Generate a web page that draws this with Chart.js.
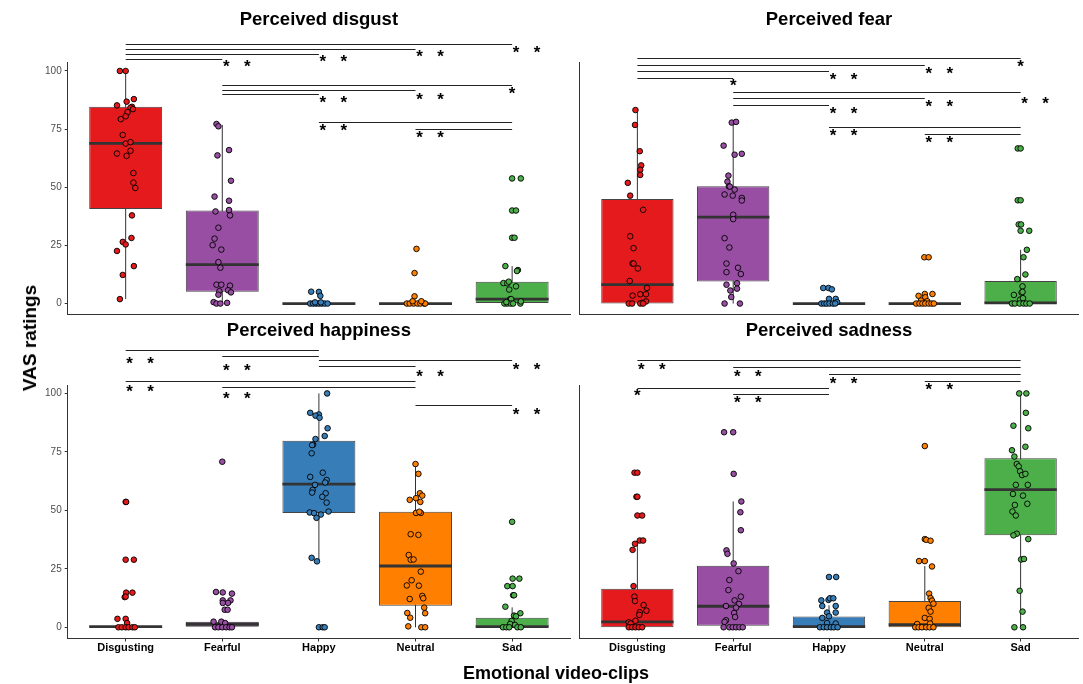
<!DOCTYPE html>
<html>
<head>
<meta charset="utf-8">
<script src="https://cdn.jsdelivr.net/npm/chart.js@4.4.0/dist/chart.umd.min.js"></script>
<style>
  body { margin: 0; background: #fff; width: 1083px; height: 684px; position: relative; overflow: hidden;
         font-family: "Liberation Sans", Arial, sans-serif; }
  canvas { position: absolute; }
  #ylab { position: absolute; left: 30px; top: 338px; transform: translate(-50%, -50%) rotate(-90deg);
          font-weight: bold; font-size: 19px; white-space: nowrap; color: #000; }
  #xlab { position: absolute; left: 556px; top: 673px; transform: translate(-50%, -50%);
          font-weight: bold; font-size: 18px; white-space: nowrap; color: #000; }
</style>
</head>
<body>
<canvas id="c1" width="575" height="330" style="left:0;top:0"></canvas>
<canvas id="c2" width="508" height="330" style="left:575px;top:0"></canvas>
<canvas id="c3" width="575" height="360" style="left:0;top:305px"></canvas>
<canvas id="c4" width="508" height="360" style="left:575px;top:305px"></canvas>
<div id="ylab">VAS ratings</div>
<div id="xlab">Emotional video-clips</div>
<script>
// --- Data ---
const categories = ['Disgusting', 'Fearful', 'Happy', 'Neutral', 'Sad'];
const yTicks = [0, 25, 50, 75, 100];

// box stats per panel: q1, median, q3, whisker low / high
const disgustQ1 = [40.7, 5.1, 0, 0, 0];
const disgustMed = [68.9, 16.7, 0, 0, 1.9];
const disgustQ3 = [84.6, 40.0, 0, 0, 9.4];
const disgustLo = [1.9, 0, 0, 0, 0];
const disgustHi = [100, 76.8, 0, 0, 16.1];

const fearQ1 = [0, 9.5, 0, 0, 0];
const fearMed = [8.1, 37.2, 0, 0, 0.3];
const fearQ3 = [44.9, 50.4, 0, 0, 9.7];
const fearLo = [0, 0, 0, 0, 0];
const fearHi = [83.2, 78.2, 0, 0, 23.1];

const happyQ1 = [0, 0, 48.9, 9.2, 0];
const happyMed = [0.3, 1.3, 61.2, 26.2, 0.3];
const happyQ3 = [0.5, 2.4, 79.8, 49.4, 4.1];
const happyLo = [0, 0, 28.2, 0, 0];
const happyHi = [0.5, 2.4, 100, 69.8, 8.5];

const sadQ1 = [0, 0.7, 0, 0, 39.3];
const sadMed = [2.3, 9.0, 0.3, 1.1, 58.9];
const sadQ3 = [16.5, 26.3, 4.6, 11.2, 72.3];
const sadLo = [0, 0, 0, 0, 0];
const sadHi = [37.1, 53.8, 9.4, 26.2, 100];

// individual ratings: [jitter offset, rating] per category
const disgustPts = [
  [[-0.06,100],[0,100],[-0.09,85.2],[0.01,86.8],[0.085,87.9],[0.065,84.6],[0.05,84.2],[0.075,83.6],[0.02,82.3],[0,80.5],[-0.05,79.3],[-0.03,72.5],[0,68.8],[0.05,69.4],[0.05,65.7],[-0.09,64.5],[0.01,63.5],[0.08,56.1],[0.08,52.0],[0.1,49.7],[0.065,37.9],[0.06,28.2],[-0.03,26.5],[0,25.4],[-0.09,22.6],[0.085,16.1],[-0.03,12.3],[-0.06,1.9]],
  [[-0.06,77.2],[-0.04,76.2],[0.07,66.0],[-0.05,63.7],[0.09,52.8],[-0.08,46.0],[0.07,44.2],[-0.07,39.6],[0.07,40.2],[0.08,37.9],[-0.04,32.6],[-0.08,27.9],[-0.1,25.1],[-0.01,23.2],[-0.04,17.8],[-0.02,15.4],[-0.06,8.1],[-0.01,8.1],[0.08,7.7],[0.06,5.7],[-0.03,5.3],[0.09,4.8],[-0.04,3.8],[-0.09,0.6],[-0.06,0],[-0.02,0],[0.05,0.3]],
  [[-0.08,5.1],[0,5.0],[0.015,3.3],[-0.09,0],[-0.06,0],[-0.03,0],[0,0],[0.03,0],[0.06,0],[0.09,0],[-0.04,0.5],[0.02,0.5]],
  [[0.01,23.5],[-0.01,13.1],[-0.01,3.1],[-0.09,0],[-0.06,0],[-0.02,0],[0.02,0],[0.05,0],[0.09,0],[0.1,0],[-0.03,1],[0.06,1]],
  [[0,53.8],[0.09,53.8],[0,40.0],[0.04,40.0],[0,28.3],[0.025,28.3],[-0.07,16.1],[0.06,14.4],[0.05,14.0],[-0.09,8.8],[-0.05,8.7],[-0.035,9.4],[0.04,7.4],[-0.03,6.0],[-0.02,1.9],[-0.01,1.9],[-0.08,0],[-0.05,0],[-0.015,0],[0.01,0],[0.085,0],[-0.06,0.6],[0.09,0.9]]
];
const fearPts = [
  [[-0.02,83.2],[-0.025,76.8],[0.025,65.5],[0.04,59.4],[0.03,57.5],[0.03,55.3],[-0.1,51.9],[-0.075,46.4],[0.06,40.3],[-0.075,28.9],[-0.04,23.8],[-0.05,17.2],[-0.04,17.2],[0.005,15.1],[-0.08,9.7],[0.1,6.7],[-0.05,3.4],[0.03,4.0],[0.09,4.0],[0.09,0.9],[0.05,0.3],[-0.09,0],[-0.055,0],[0.03,0],[0.06,0]],
  [[-0.015,77.8],[0.03,78.1],[-0.1,67.9],[0.015,64.0],[0.09,64.4],[-0.05,55.0],[-0.06,52.4],[-0.045,50.4],[-0.035,50.3],[0.015,49.0],[-0.09,46.9],[-0.005,46.4],[0.09,45.4],[0.09,44.3],[0,38.2],[0,36.3],[-0.09,28.1],[-0.04,24.1],[-0.07,17.2],[0.05,15.4],[-0.07,13.5],[0.08,12.7],[-0.07,8.1],[0.04,8.7],[0.04,6.4],[-0.03,5.6],[-0.02,2.8],[-0.09,0],[0.07,0]],
  [[-0.06,6.7],[-0.005,6.7],[0.03,6.1],[0,2.0],[0.07,2.0],[0.085,0.6],[-0.08,0],[-0.05,0],[-0.025,0],[0.005,0],[0.04,0],[0.065,0]],
  [[-0.005,19.9],[0.04,19.9],[0,4.1],[0.08,4.1],[-0.065,3.3],[0.005,2.7],[-0.04,1.3],[0.025,1.0],[-0.09,0],[-0.055,0],[-0.025,0],[0.005,0],[0.04,0],[0.07,0],[0.095,0]],
  [[-0.03,66.7],[0,66.7],[-0.03,44.4],[0,44.4],[-0.02,34.0],[0.005,34.0],[0,31.3],[0.09,31.3],[0.065,23.1],[0.03,19.9],[0.05,12.5],[-0.035,10.5],[0.02,7.4],[-0.07,3.7],[0.01,4.7],[0.02,5.0],[-0.005,1.7],[0.025,2.3],[-0.09,0],[-0.06,0],[-0.01,0],[0.03,0],[0.06,0],[0.095,0]]
];
const happyPts = [
  [[0,53.6],[0.005,53.6],[0,28.9],[0.085,28.9],[0.005,14.8],[0.07,14.8],[-0.01,12.9],[0,13.1],[-0.085,3.6],[0,3.6],[0.015,1.8],[-0.075,0],[-0.04,0],[0,0],[0.03,0],[0.07,0],[0.095,0]],
  [[0,70.8],[-0.065,15.1],[0.005,14.9],[0.1,14.4],[0.005,11.5],[0.085,11.5],[0.06,10.4],[0.005,10.4],[0.025,7.5],[0.055,7.5],[-0.09,2.4],[-0.01,2.4],[0.03,1.8],[-0.075,0],[-0.04,0],[0,0],[0.04,0],[0.075,0],[0.1,0]],
  [[0.085,100],[-0.09,91.7],[0,91.0],[-0.035,90.5],[0.007,89.6],[0.09,85.1],[0.06,81.8],[-0.035,80.5],[-0.06,78.1],[-0.07,77.9],[-0.075,74.4],[0.04,66.1],[-0.09,64.3],[0.08,63.0],[0.065,61.9],[-0.04,60.9],[-0.065,58.7],[-0.07,57.6],[0.07,57.3],[0.035,55.8],[0.08,53.3],[0.1,49.5],[-0.095,49.1],[-0.05,48.8],[0.02,48.2],[-0.025,46.8],[-0.075,29.7],[-0.02,28.2],[0,0],[0.04,0],[0.06,0]],
  [[0,69.8],[0.03,65.6],[-0.06,54.5],[0.005,55.2],[0.045,57.3],[0.07,56.3],[0.05,53.6],[0.005,48.9],[0.055,48.9],[0.04,49.4],[-0.05,39.8],[0.03,39.5],[-0.07,30.9],[-0.05,28.9],[-0.02,29.0],[0.055,23.8],[-0.04,20.1],[-0.09,17.9],[0.035,17.8],[-0.06,12.1],[0.07,13.4],[0.08,12.4],[0.09,8.4],[0.1,6.0],[-0.085,6.1],[-0.055,4.1],[-0.075,0.4],[0.06,0],[0.1,0]],
  [[0,45.1],[0.005,20.8],[0.075,20.8],[-0.05,17.6],[0.005,17.6],[0.01,13.7],[0.02,13.7],[-0.07,8.8],[0.085,6.0],[0.02,5.0],[0.04,4.7],[-0.005,2.7],[-0.02,1.4],[0.03,1.0],[-0.095,0],[-0.06,0],[-0.03,0],[0.055,0],[0.09,0]]
];
const sadPts = [
  [[-0.03,66.1],[0,66.1],[-0.01,55.8],[0,55.8],[0,47.8],[0.05,47.8],[0.025,37.1],[0.06,37.1],[-0.025,35.7],[-0.05,33.1],[-0.04,17.6],[-0.03,13.1],[-0.025,11.2],[0.065,9.5],[0.095,7.1],[0.025,6.4],[0.02,5.3],[-0.09,2.1],[-0.02,2.8],[-0.07,1.6],[-0.09,0],[-0.055,0],[-0.02,0],[0.015,0],[0.05,0]],
  [[-0.095,83.4],[0,83.4],[0.005,65.6],[0.085,53.8],[0.075,49.2],[0.08,41.5],[-0.07,32.9],[-0.06,31.4],[0.005,27.3],[0.055,24.0],[-0.04,20.2],[-0.05,15.9],[0.08,13.1],[0.015,11.5],[-0.075,9.1],[0.06,10.0],[0.03,8.4],[0.01,6.1],[0.02,4.4],[-0.075,3.0],[-0.09,2.3],[-0.1,0],[-0.04,0],[-0.005,0],[0.03,0],[0.065,0],[0.1,0]],
  [[0,21.5],[0.075,21.5],[-0.08,11.5],[-0.005,11.7],[0.01,12.4],[0.045,12.4],[-0.07,9.1],[0.07,9.1],[-0.02,6.3],[0.07,6.3],[-0.07,4.0],[0,4.7],[0.07,1.6],[-0.02,1.8],[-0.095,0],[-0.055,0],[-0.02,0],[0.02,0],[0.05,0],[0.09,0]],
  [[0,77.5],[0,37.7],[0.015,37.4],[0.06,37.0],[-0.06,28.3],[0,28.3],[0.075,26.0],[0.045,14.4],[0.06,12.5],[0.075,11.4],[0.09,10.1],[0.04,8.3],[0.06,6.7],[0,4.0],[0.05,3.6],[-0.08,1.4],[0.055,1.6],[-0.1,0],[-0.065,0],[-0.03,0],[0.015,0],[0.05,0],[0.09,0]],
  [[-0.015,100],[0.06,100],[0.055,91.7],[-0.075,86.2],[0.08,85.1],[0.05,77.2],[-0.09,75.7],[-0.065,73.0],[-0.04,69.8],[-0.02,68.8],[-0.005,66.7],[0.015,65.1],[0.05,65.6],[-0.05,60.9],[0.075,60.9],[-0.08,57.0],[0.025,56.3],[0.07,52.8],[-0.06,52.3],[-0.085,49.5],[-0.05,47.8],[-0.04,40.0],[-0.075,39.3],[0.08,37.7],[0.005,29.0],[0.035,29.2],[-0.01,15.6],[0.02,6.7],[-0.065,0],[0.025,0]]
];

// significance brackets: [from, to, line y, stars at, stars y, number of stars]
const disgustSig = [
  [1,5,111.7,5,109.5,2],[1,4,109.5,4,107.4,2],[1,3,107.4,3,105.3,2],[1,2,105.1,2,103.1,2],
  [2,5,94.0,5,91.6,1],[2,4,91.9,4,89.3,2],[2,3,89.9,3,87.7,2],[3,5,78.1,3,75.8,2],[4,5,75.2,4,72.8,2]
];
const fearSig = [
  [1,5,105.6,5,103.1,1],[1,4,102.4,4,100.1,2],[1,3,100.0,3,97.9,2],[1,2,97.1,2,95.0,1],
  [2,5,91.0,5,87.5,2],[2,4,88.3,4,86.0,2],[2,3,85.5,3,82.9,2],[3,5,75.9,3,73.6,2],[4,5,72.9,4,70.6,2]
];
const happySig = [
  [1,3,118.7,1,114.1,2],[2,3,116.0,2,111.1,2],[3,5,114.3,5,111.7,2],[3,4,111.8,4,108.8,2],
  [1,4,105.4,1,102.3,2],[2,4,102.6,2,99.4,2],[4,5,95.2,5,92.2,2]
];
const sadSig = [
  [1,5,114.3,1,111.5,2],[2,5,111.5,2,108.7,2],[3,5,108.5,3,105.8,2],[4,5,105.5,4,103.0,2],
  [1,3,102.4,1,100.6,1],[2,3,99.9,2,97.3,2]
];

// --- Styles ---
const fills = ['#E41A1C', '#984EA3', '#377EB8', '#FF7F00', '#4DAF4A'];
const FONT = '"Liberation Sans", Arial, sans-serif';

// brackets + asterisks, drawn above the panels
function sigPlugin(bars) {
  return {
    id: 'sig',
    afterDraw(chart) {
      const { ctx, scales: { x, y } } = chart;
      ctx.save();
      ctx.strokeStyle = '#222';
      ctx.lineWidth = 1;
      ctx.fillStyle = '#000';
      ctx.font = 'bold 17px ' + FONT;
      ctx.textAlign = 'center';
      ctx.textBaseline = 'middle';
      bars.forEach(([a, b, ly, sx, sy, n]) => {
        const py = Math.round(y.getPixelForValue(ly)) + 0.5;
        ctx.beginPath();
        ctx.moveTo(x.getPixelForValue(a), py);
        ctx.lineTo(x.getPixelForValue(b), py);
        ctx.stroke();
        const px = x.getPixelForValue(sx);
        const ty = y.getPixelForValue(sy) + 4;
        if (n === 1) {
          ctx.fillText('*', px, ty);
        } else {
          ctx.fillText('*', px + 4, ty);
          ctx.fillText('*', px + 25, ty);
        }
      });
      ctx.restore();
    }
  };
}

function buildPanel(id, title, pts, q1, med, q3, lo, hi, sig, opt) {
  const datasets = [];

  // jittered points on top
  pts.forEach((arr, i) => {
    datasets.push({
      type: 'scatter',
      data: arr.map(p => ({ x: i + 1 + p[0], y: p[1] })),
      backgroundColor: fills[i],
      borderColor: '#000',
      borderWidth: 0.9,
      pointRadius: 2.8,
      order: 0
    });
  });

  // median bars
  datasets.push({
    type: 'bar',
    data: med.map((m, i) => ({ x: i + 1, y: [m - 0.6, m + 0.6] })),
    backgroundColor: '#333',
    borderWidth: 0,
    grouped: false,
    barPercentage: 0.755,
    categoryPercentage: 1,
    order: 1
  });

  // boxes (q1 - q3)
  datasets.push({
    type: 'bar',
    data: q1.map((v, i) => ({ x: i + 1, y: [v, q3[i]] })),
    backgroundColor: fills,
    borderColor: '#444',
    borderWidth: 1,
    borderSkipped: false,
    grouped: false,
    barPercentage: 0.755,
    categoryPercentage: 1,
    order: 2
  });

  // whiskers
  const whisk = [];
  lo.forEach((v, i) => {
    whisk.push({ x: i + 1, y: v }, { x: i + 1, y: hi[i] }, { x: i + 1, y: null });
  });
  datasets.push({
    type: 'line',
    data: whisk,
    borderColor: '#333',
    borderWidth: 1,
    pointRadius: 0,
    spanGaps: false,
    order: 3
  });

  new Chart(document.getElementById(id), {
    type: 'bar',
    data: { datasets },
    options: {
      responsive: false,
      animation: false,
      events: [],
      layout: { padding: 0 },
      plugins: {
        legend: { display: false },
        tooltip: { enabled: false },
        title: {
          display: true,
          text: title,
          fullSize: false,
          color: '#000',
          font: { family: FONT, size: 18.5, weight: 'bold' },
          padding: { top: opt.tTop, bottom: opt.tBot }
        }
      },
      scales: {
        x: {
          type: 'linear',
          min: 0.4,
          max: 5.6,
          offset: false,
          afterBuildTicks: s => { s.ticks = categories.map((c, i) => ({ value: i + 1 })); },
          afterFit: s => { s.height = opt.xH; },
          grid: { display: opt.xLab, offset: false, drawOnChartArea: false, drawTicks: true, tickLength: 3, color: '#333' },
          border: { display: true, color: '#333', width: 1 },
          ticks: {
            display: opt.xLab,
            autoSkip: false,
            maxRotation: 0,
            padding: 0,
            color: '#000',
            font: { family: FONT, size: 11, weight: 'bold' },
            callback: v => categories[v - 1]
          }
        },
        y: {
          min: -4.8,
          max: 103.6,
          afterBuildTicks: s => { s.ticks = yTicks.map(v => ({ value: v })); },
          afterFit: s => { s.width = opt.yW; },
          grid: { display: opt.yLab, drawOnChartArea: false, drawTicks: true, tickLength: 3, color: '#333' },
          border: { display: true, color: '#333', width: 1 },
          ticks: { display: opt.yLab, padding: 3, color: '#4d4d4d', font: { family: FONT, size: 10 } }
        }
      }
    },
    plugins: [sigPlugin(sig)]
  });
}

buildPanel('c1', 'Perceived disgust', disgustPts, disgustQ1, disgustMed, disgustQ3, disgustLo, disgustHi, disgustSig,
  { tTop: 9, tBot: 31.4, xH: 15.3, yW: 67.7, xLab: false, yLab: true });
buildPanel('c2', 'Perceived fear', fearPts, fearQ1, fearMed, fearQ3, fearLo, fearHi, fearSig,
  { tTop: 9, tBot: 31.4, xH: 15.3, yW: 3.8, xLab: false, yLab: false });
buildPanel('c3', 'Perceived happiness', happyPts, happyQ1, happyMed, happyQ3, happyLo, happyHi, happySig,
  { tTop: 15, tBot: 42.8, xH: 26.5, yW: 67.7, xLab: true, yLab: true });
buildPanel('c4', 'Perceived sadness', sadPts, sadQ1, sadMed, sadQ3, sadLo, sadHi, sadSig,
  { tTop: 15, tBot: 42.8, xH: 26.5, yW: 3.8, xLab: true, yLab: false });
</script>
</body>
</html>
